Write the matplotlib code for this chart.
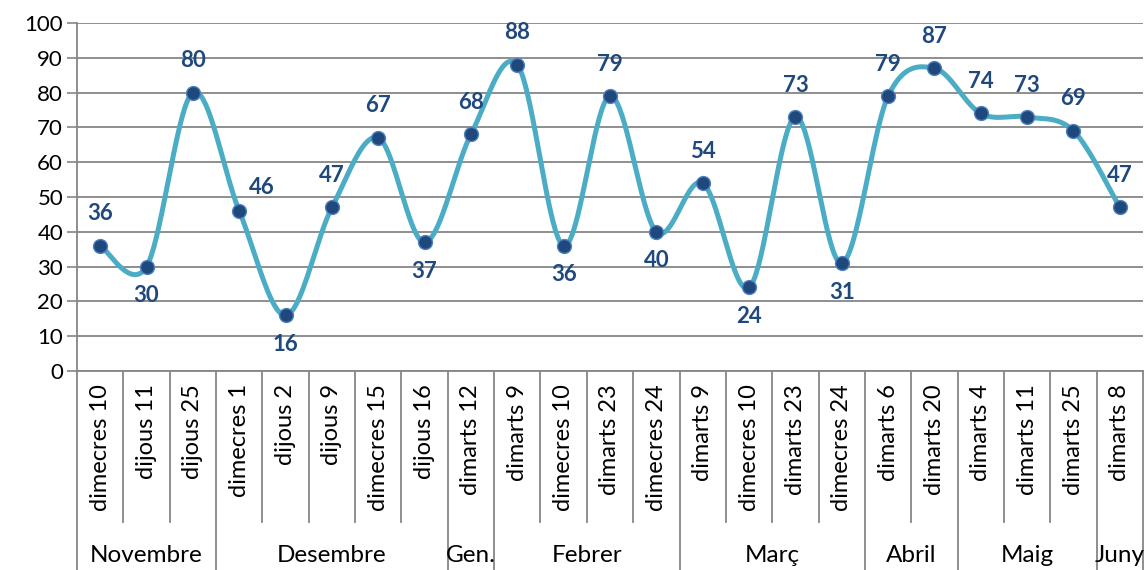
import numpy as np
import matplotlib.pyplot as plt
from matplotlib.transforms import blended_transform_factory

plt.rcParams['font.family'] = ['Lato', 'DejaVu Sans']

days = ['dimecres 10', 'dijous 11', 'dijous 25',
        'dimecres 1', 'dijous 2', 'dijous 9', 'dimecres 15', 'dijous 16',
        'dimarts 12',
        'dimarts 9', 'dimecres 10', 'dimarts 23', 'dimecres 24',
        'dimarts 9', 'dimecres 10', 'dimarts 23', 'dimecres 24',
        'dimarts 6', 'dimarts 20',
        'dimarts 4', 'dimarts 11', 'dimarts 25',
        'dimarts 8']
values = [36, 30, 80, 46, 16, 47, 67, 37, 68, 88, 36, 79, 40,
          54, 24, 73, 31, 79, 87, 74, 73, 69, 47]
months = ['Novembre', 'Desembre', 'Gen.', 'Febrer', 'Març', 'Abril', 'Maig', 'Juny']
monthCounts = [3, 5, 1, 4, 4, 2, 3, 1]
# where the data label sits: above, below, or upper right
labelPos = ['a', 'b', 'a', 'r', 'b', 'a', 'a', 'b', 'a', 'a', 'b', 'a', 'b',
            'a', 'b', 'a', 'b', 'a', 'a', 'a', 'a', 'a', 'a']


def smoothCurve(x, y, n=40):
    # bezier smoothing like a spreadsheet "smoothed line"
    x = np.asarray(x, float)
    y = np.asarray(y, float)
    xs, ys = [], []
    for i in range(len(x) - 1):
        p0 = np.array([x[max(i - 1, 0)], y[max(i - 1, 0)]])
        p1 = np.array([x[i], y[i]])
        p2 = np.array([x[i + 1], y[i + 1]])
        p3 = np.array([x[min(i + 2, len(x) - 1)], y[min(i + 2, len(x) - 1)]])
        c1 = p1 + (p2 - p0) / 6.0
        c2 = p2 - (p3 - p1) / 6.0
        t = np.linspace(0, 1, n)[:, None]
        pts = ((1 - t) ** 3) * p1 + 3 * ((1 - t) ** 2) * t * c1 + 3 * (1 - t) * t ** 2 * c2 + t ** 3 * p2
        xs.extend(pts[:, 0])
        ys.extend(pts[:, 1])
    return np.array(xs), np.array(ys)


fig = plt.figure(figsize=(11.45, 5.7), dpi=100)
ax = fig.add_axes([77 / 1145, 199 / 570, 1066 / 1145, 348 / 570])

x = np.arange(len(values))
sx, sy = smoothCurve(x, values)
ax.plot(sx, sy, color='#4BACC6', lw=3.6, solid_capstyle='round', zorder=3)
ax.plot(x, values, 'o', ms=10, color='#1F497D', mec='#4F81BD', mew=1.0, zorder=4)

offsets = {'a': (0, 23), 'b': (0, -21), 'r': (16, 17)}
for xi, v, p in zip(x, values, labelPos):
    ax.annotate(str(v), (xi, v), xytext=offsets[p], textcoords='offset points',
                ha='center', va='center', fontsize=16, fontweight='bold', color='#1F497D')

ax.set_xlim(-0.5, len(values) - 0.5)
ax.set_ylim(0, 100)
ax.set_yticks(np.arange(0, 101, 10))
ax.tick_params(axis='y', length=7, width=1.2, color='#868686', labelsize=16, pad=3)
ax.yaxis.grid(True, color='#868686', lw=1.3)
ax.set_axisbelow(True)
ax.set_xticks([])
for s in ['top', 'right']:
    ax.spines[s].set_visible(False)
ax.spines['left'].set_color('#868686')
ax.spines['left'].set_linewidth(1.3)
ax.spines['bottom'].set_color('#868686')
ax.spines['bottom'].set_linewidth(1.3)

trans = blended_transform_factory(ax.transData, ax.transAxes)
axH = 348.0
inner = -151 / axH
full = -(199 + 5) / axH

# category labels
for xi, d in zip(x, days):
    ax.text(xi, -13 / axH, d, transform=trans, rotation=90, ha='center', va='top', fontsize=17)

# separators between categories and months
bounds = np.cumsum([0] + monthCounts) - 0.5
for b in np.arange(-0.5, len(values)):
    y0 = full if np.any(np.isclose(bounds, b)) else inner
    ax.plot([b, b], [0, y0], transform=trans, color='#868686', lw=1.3, clip_on=False)

for m, lo, hi in zip(months, bounds[:-1], bounds[1:]):
    ax.text((lo + hi) / 2, -185 / axH, m, transform=trans, ha='center', va='center', fontsize=17.5)

plt.savefig('out.png', dpi=100, facecolor='w')
